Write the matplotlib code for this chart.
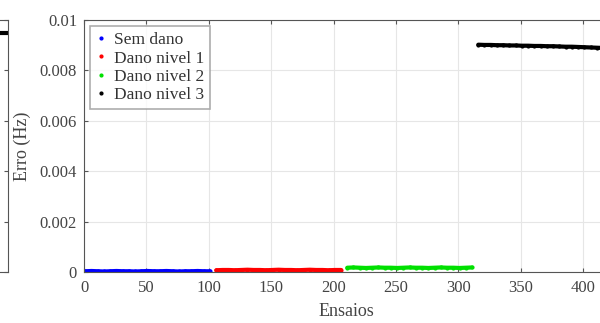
import numpy as np
import matplotlib.pyplot as plt

plt.rcParams['font.family'] = ['Liberation Serif', 'DejaVu Serif']

# error per trial (sampled every 5 trials)
labels = ['Sem dano', 'Dano nivel 1', 'Dano nivel 2', 'Dano nivel 3']
colors = ['#0000ff', '#ff0000', '#00e000', '#000000']
starts = [1, 106, 211, 316]

semDano = [0.00003, 0.00004, 0.00003, 0.00002, 0.00003, 0.00004, 0.00003, 0.00003,
           0.00002, 0.00003, 0.00004, 0.00003, 0.00003, 0.00004, 0.00003, 0.00002,
           0.00003, 0.00003, 0.00004, 0.00003, 0.00003]
danoNivel1 = [0.00007, 0.00008, 0.00008, 0.00007, 0.00008, 0.00009, 0.00008, 0.00008,
              0.00007, 0.00008, 0.00009, 0.00008, 0.00008, 0.00007, 0.00008, 0.00009,
              0.00008, 0.00008, 0.00007, 0.00008, 0.00008]
danoNivel2 = [0.00017, 0.00018, 0.00017, 0.00016, 0.00017, 0.00018, 0.00017, 0.00017,
              0.00016, 0.00017, 0.00018, 0.00017, 0.00017, 0.00016, 0.00017, 0.00018,
              0.00017, 0.00017, 0.00016, 0.00017, 0.00018]
danoNivel3 = [0.00902, 0.00901, 0.00901, 0.00900, 0.00900, 0.00899, 0.00899, 0.00898,
              0.00898, 0.00897, 0.00897, 0.00896, 0.00896, 0.00895, 0.00894, 0.00894,
              0.00893, 0.00892, 0.00891, 0.00890, 0.00889]
series = [semDano, danoNivel1, danoNivel2, danoNivel3]

yTicks = [0, 0.002, 0.004, 0.006, 0.008, 0.01]
yLabels = ['0', '0.002', '0.004', '0.006', '0.008', '0.01']
xTicks = np.arange(0, 401, 50)

# previous subplot (mostly cropped away)
prevLevel = [0.0095, 0.0095]

fig = plt.figure(figsize=(6.0, 3.23), dpi=100)
W, H = 600.0, 323.0
spineCol = '#555555'
textCol = '#444444'

axPrev = fig.add_axes([-500 / W, 1 - 272 / H, 508 / W, 252 / H])
axPrev.plot([0, 420], prevLevel, color='black', lw=3)
axPrev.set_xlim(0, 420)
axPrev.set_ylim(0, 0.01)
axPrev.set_yticks(yTicks)
axPrev.set_xticks([])
axPrev.tick_params(axis='y', right=True, left=False, labelleft=False,
                   direction='in', length=3, color=spineCol)
for s in axPrev.spines.values():
    s.set_color(spineCol)

ax = fig.add_axes([84 / W, 1 - 272 / H, 524 / W, 252 / H])
for i in range(4):
    x = np.arange(starts[i], starts[i] + 5 * len(series[i]), 5)
    ax.plot(x, series[i], '-', color=colors[i], lw=3.0, solid_capstyle='round')
    ax.plot(x, series[i], '.', color=colors[i], ms=4, label=labels[i])

ax.set_xlim(0, 420)
ax.set_ylim(0, 0.01)
ax.set_xticks(xTicks)
ax.set_yticks(yTicks)
ax.set_yticklabels(yLabels)
ax.grid(True, color='#e6e6e6', lw=0.8)
ax.set_axisbelow(True)
ax.tick_params(direction='in', length=3, top=True, right=True, color=spineCol,
               labelcolor=textCol, labelsize=12)
ax.tick_params(axis='x', pad=6)
ax.tick_params(axis='y', pad=5)
for s in ax.spines.values():
    s.set_color(spineCol)
ax.set_xlabel('Ensaios', fontsize=13, color=textCol, labelpad=5)
ax.set_ylabel('Erro (Hz)', fontsize=13, color=textCol, labelpad=6)

leg = ax.legend(loc='upper left', fontsize=12.5, handlelength=0.6, handletextpad=0.4,
                labelspacing=0.12, borderpad=0.35, borderaxespad=0.35,
                fancybox=False, markerscale=1.0)
leg.get_frame().set_edgecolor('#999999')
leg.get_frame().set_linewidth(1.2)
for t in leg.get_texts():
    t.set_color('#333333')

fig.savefig('out.png', dpi=100)
